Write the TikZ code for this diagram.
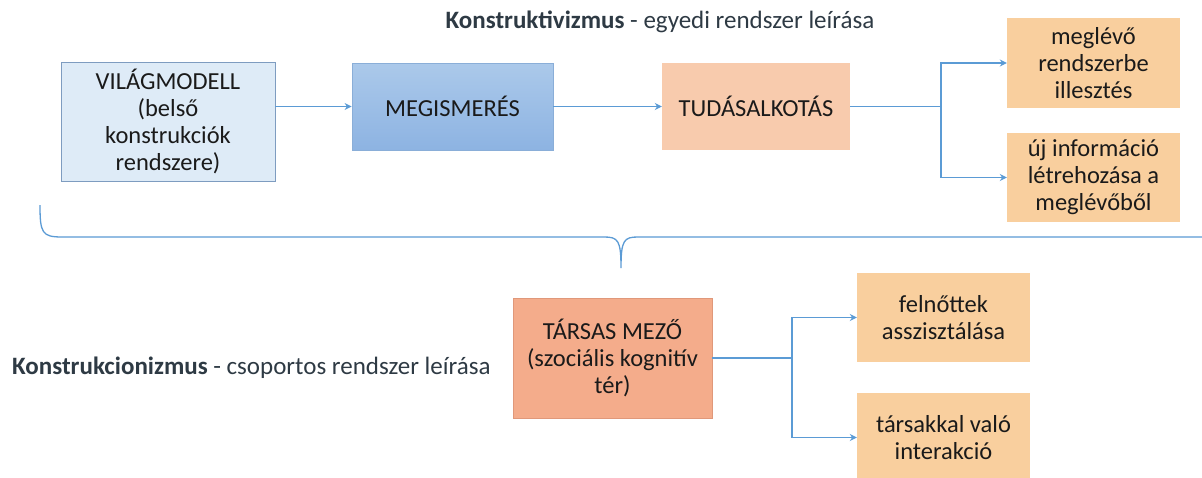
\documentclass[tikz,border=0pt]{standalone}
\usepackage{fontspec}
\setmainfont{Carlito}
\usetikzlibrary{arrows.meta}
\definecolor{linkblue}{HTML}{5B9BD5}
\definecolor{paleblue}{HTML}{DEEBF7}
\definecolor{paleborder}{HTML}{7E9CC0}
\definecolor{midblueT}{HTML}{ABC9EA}
\definecolor{midblueB}{HTML}{8DB3E2}
\definecolor{midborder}{HTML}{8AAED8}
\definecolor{peach}{HTML}{F8CBAD}
\definecolor{apricot}{HTML}{F9CF9E}
\definecolor{salmon}{HTML}{F4AC8B}
\definecolor{salmonborder}{HTML}{E0987A}
\definecolor{titlegrey}{HTML}{2E3A44}
\definecolor{boxtext}{HTML}{1A1A1A}
\tikzset{
  box/.style={rectangle, align=center, inner sep=2pt, text=boxtext,
    font=\fontsize{24.5}{27}\selectfont},
  link/.style={draw=linkblue, line width=1.5pt, -{Stealth[length=7pt,width=7pt]}},
  branch/.style={draw=linkblue, line width=1.5pt},
  heading/.style={text=titlegrey, font=\fontsize{25}{28}\selectfont, inner sep=0pt}
}
\begin{document}
\begin{tikzpicture}[x=1pt,y=-1pt]
\useasboundingbox (0,0) rectangle (1202,477);
\clip (0,0) rectangle (1202,477);
\fill[white] (0,0) rectangle (1202,477);

% individual construction (upper row)
\node[heading] (t1) at (660,22) {\textbf{Konstruktivizmus} - egyedi rendszer leírása};

\node[box, fill=paleblue, draw=paleborder, line width=0.8pt,
  minimum width=214pt, minimum height=119pt] (vm) at (168,121.5)
  {VILÁGMODELL\\(belső\\konstrukciók\\rendszere)};
\node[box, top color=midblueT, bottom color=midblueB, draw=midborder, line width=0.8pt,
  minimum width=201pt, minimum height=87pt] (meg) at (452.5,106.5) {MEGISMERÉS};
\node[box, fill=peach, minimum width=188pt, minimum height=87pt] (tud) at (756,106.5)
  {TUDÁSALKOTÁS};
\node[box, fill=apricot, minimum width=173pt, minimum height=90pt] (o1) at (1093.5,63)
  {meglévő\\rendszerbe\\illesztés};
\node[box, fill=apricot, minimum width=173pt, minimum height=89pt] (o2) at (1093.5,177.5)
  {új információ\\létrehozása a\\meglévőből};

\coordinate (s1) at (941,106.5);
\draw[link] (vm.east |- meg.west) -- (meg.west);
\draw[link] (meg.east) -- (tud.west);
\draw[branch] (tud.east) -- (s1);
\draw[link] (s1) |- (o1.west);
\draw[link] (s1) |- (o2.west);

% brace joining the two levels
\coordinate (bl) at (40,205);
\coordinate (bt) at (621,268);
\coordinate (br) at (1215,237);
\draw[branch, line width=1.3pt] (bl) .. controls (40,233) and (42,237) .. (62,237)
  -- (604,237) .. controls (618,237) and (621,240) .. (bt)
  .. controls (621,240) and (624,237) .. (638,237) -- (br);

% group construction (lower row)
\node[heading, anchor=west] (t2) at (12,368)
  {\textbf{Konstrukcionizmus} - csoportos rendszer leírása};

\node[box, fill=salmon, draw=salmonborder, line width=0.6pt,
  minimum width=199pt, minimum height=120pt] (tm) at (612.5,358)
  {TÁRSAS MEZŐ\\(szociális kognitív\\tér)};
\node[box, fill=apricot, minimum width=173pt, minimum height=89pt] (f1) at (943.5,317.5)
  {felnőttek\\asszisztálása};
\node[box, fill=apricot, minimum width=173pt, minimum height=89pt] (f2) at (943.5,437.5)
  {társakkal való\\interakció};

\coordinate (s2) at (792,358);
\draw[branch] (tm.east) -- (s2);
\draw[link] (s2) |- (f1.west);
\draw[link] (s2) |- (f2.west);
\end{tikzpicture}
\end{document}
